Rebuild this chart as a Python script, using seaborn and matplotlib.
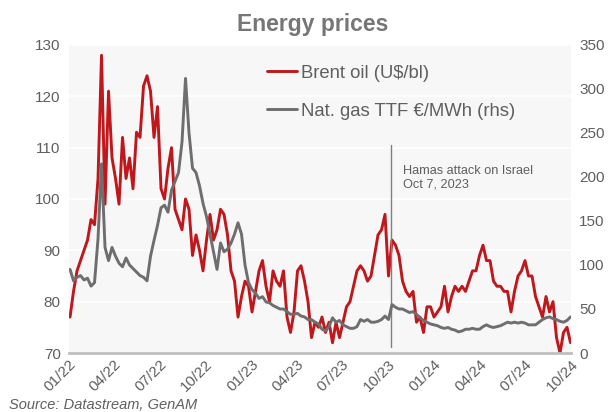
import pandas as pd
import seaborn as sns
import matplotlib.pyplot as plt
import matplotlib.dates as mdates

# weekly readings (Mondays), Jan 2022 - Sep 2024
dates = pd.date_range('2022-01-03', periods=144, freq='7D')

brent = [
    # 2022
    77, 82, 86, 88, 90, 92, 96, 95, 104, 128, 99, 121, 108,
    104, 99, 112, 104, 108, 102, 113, 112, 122, 124, 121, 112, 118,
    102, 100, 106, 110, 98, 96, 94, 100, 98, 89, 93, 90, 86,
    92, 97, 92, 94, 98, 97, 93, 86, 84, 77, 81, 84, 83,
    # 2023
    78, 82, 86, 88, 83, 80, 86, 84, 83, 86, 77, 74, 78,
    86, 87, 84, 80, 73, 76, 75, 77, 74, 76, 72, 76, 73,
    76, 79, 80, 83, 86, 87, 86, 84, 85, 89, 93, 94, 97,
    85, 92, 91, 89, 84, 82, 81, 82, 76, 77, 74, 79, 79,
    # 2024
    77, 78, 79, 83, 78, 81, 83, 82, 83, 82, 84, 86, 86,
    89, 91, 88, 88, 84, 83, 83, 82, 82, 78, 82, 85, 86,
    88, 85, 85, 81, 79, 77, 81, 78, 80, 73, 70, 74, 75, 72,
]

ttf = [
    # 2022
    95, 82, 86, 88, 83, 85, 76, 80, 130, 215, 120, 105, 120,
    110, 102, 98, 108, 100, 96, 92, 88, 86, 82, 110, 128, 145,
    165, 168, 160, 185, 195, 205, 240, 312, 250, 210, 205, 190, 170,
    155, 135, 115, 95, 125, 115, 118, 125, 135, 148, 135, 100, 80,
    # 2023
    72, 68, 62, 64, 58, 57, 54, 52, 50, 50, 47, 44, 44,
    45, 42, 41, 38, 38, 35, 33, 27, 25, 30, 40, 35, 37,
    32, 30, 28, 28, 30, 38, 36, 38, 35, 35, 36, 38, 42,
    38, 55, 52, 50, 50, 48, 46, 47, 44, 40, 37, 35, 33,
    # 2024
    32, 31, 29, 28, 29, 27, 26, 24, 25, 27, 27, 28, 27,
    27, 30, 32, 30, 29, 30, 31, 33, 35, 34, 35, 34, 35,
    34, 32, 32, 32, 35, 38, 40, 41, 39, 38, 36, 35, 37, 41,
]

df = pd.DataFrame({'date': dates, 'brent': brent, 'ttf': ttf})

event_date = pd.Timestamp('2023-10-07')

red = '#C0171C'
grey_line = '#6E6E6E'
text_grey = '#5F5F5F'

sns.set_theme(style='white')
plt.rcParams['font.family'] = ['Liberation Sans', 'DejaVu Sans']

fig = plt.figure(figsize=(6.13, 4.12), dpi=100)
ax = fig.add_axes([0.1126, 0.1432, 0.8189, 0.7476])
ax.set_facecolor('#F7F7F7')

sns.lineplot(data=df, x='date', y='brent', ax=ax, color=red, linewidth=2.1,
             label='Brent oil (U$/bl)', legend=False)
ax2 = ax.twinx()
sns.lineplot(data=df, x='date', y='ttf', ax=ax2, color=grey_line, linewidth=2.1,
             label='Nat. gas TTF €/MWh (rhs)', legend=False)

ax.set_ylim(70, 130)
ax.set_yticks(range(70, 131, 10))
ax2.set_ylim(0, 350)
ax2.set_yticks(range(0, 351, 50))
ax.set_xlim(pd.Timestamp('2022-01-01'), pd.Timestamp('2024-10-01'))

ax.grid(axis='y', color='white', linewidth=1.2)
ax.set_axisbelow(True)

ax.xaxis.set_major_locator(mdates.MonthLocator(bymonth=[1, 4, 7, 10]))
ax.xaxis.set_major_formatter(mdates.DateFormatter('%m/%y'))
for lbl in ax.get_xticklabels():
    lbl.set_rotation(45)
    lbl.set_ha('right')
    lbl.set_rotation_mode('anchor')

for a in (ax, ax2):
    a.set_xlabel('')
    a.set_ylabel('')
    a.tick_params(length=0, labelsize=11, colors=text_grey, pad=6)
    for s in a.spines.values():
        s.set_visible(False)
ax.spines['bottom'].set_visible(True)
ax.spines['bottom'].set_color('#BFBFBF')
ax.spines['bottom'].set_linewidth(2)
ax.tick_params(axis='x', pad=3)

# event marker
ax.axvline(event_date, ymin=0.02, ymax=0.675, color='#7F7F7F', linewidth=1)
ax.text(event_date + pd.Timedelta(days=24), 106.7, 'Hamas attack on Israel\nOct 7, 2023',
        fontsize=9.2, color=text_grey, va='top', linespacing=1.25)

handles = ax.get_lines()[:1] + ax2.get_lines()[:1]
ax.legend(handles, [h.get_label() for h in handles], loc='upper left',
          bbox_to_anchor=(0.362, 0.99), frameon=False, fontsize=13.3,
          labelcolor=text_grey, handlelength=1.6, handletextpad=0.2,
          labelspacing=1.15)

fig.suptitle('Energy prices', x=0.51, y=0.968, fontsize=16.5,
             fontweight='bold', color='#767676')
fig.text(0.015, 0.008, 'Source: Datastream, GenAM', fontsize=10.5,
         style='italic', color=text_grey)

fig.savefig('out.png', dpi=100)
